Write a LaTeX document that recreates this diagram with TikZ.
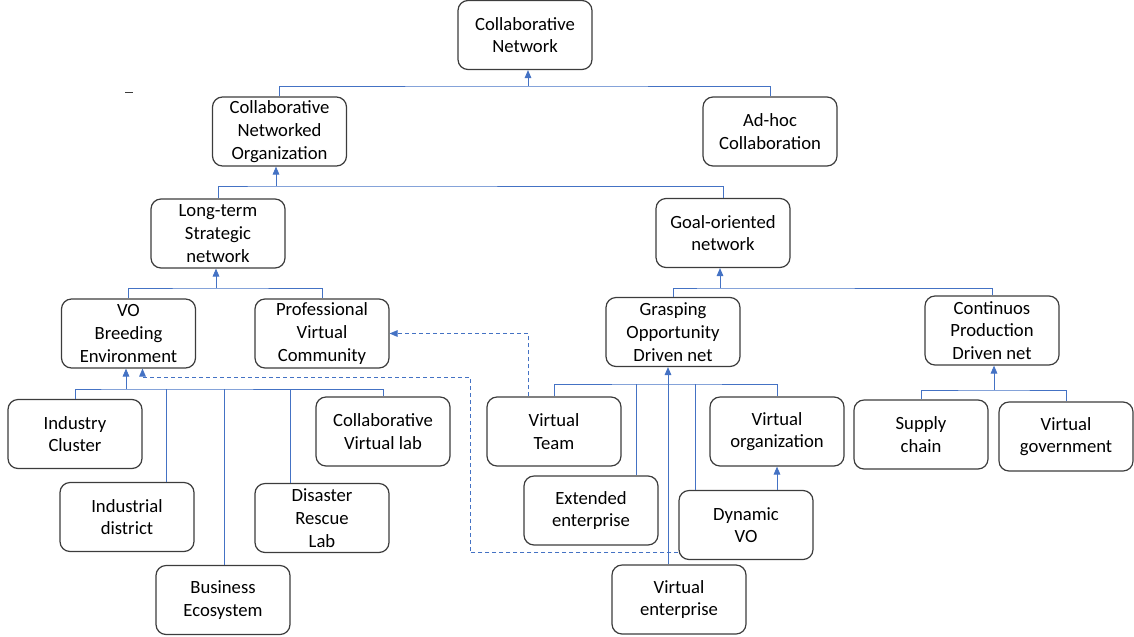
\documentclass[tikz,border=0pt]{standalone}
\usepackage{fontspec}
\setmainfont{Carlito}
\usetikzlibrary{arrows.meta}
\definecolor{linkblue}{RGB}{68,114,196}
\definecolor{boxgray}{RGB}{60,60,60}

\begin{document}
\begin{tikzpicture}[x=0.75pt, y=-0.75pt,
    box/.style={draw=boxgray, line width=0.9pt, rounded corners=7.5pt, minimum width=100.5pt, minimum height=51.75pt, align=center, inner sep=2pt, font=\fontsize{14pt}{17pt}\selectfont},
    link/.style={linkblue, line width=0.65pt},
    uparrow/.style={link, -{Triangle[width=5pt,length=6pt]}},
    dasharrow/.style={uparrow, dash pattern=on 3pt off 2.25pt}]
        \useasboundingbox (0,0) rectangle (1134,636);

        % Top levels
        \node[box] (cn) at (525,35) {Collaborative\\Network};
        \node[box] (cno) at (279.5,131.5) {Collaborative\\Networked\\Organization};
        \node[box] (adhoc) at (770,131.5) {Ad-hoc\\Collaboration};
        \node[box] (lts) at (218,233.5) {Long-term\\Strategic\\network};
        \node[box] (gon) at (723,233) {Goal-oriented\\network};

        % Third level
        \node[box] (vbe) at (128.5,333.5) {VO\\Breeding\\Environment};
        \node[box] (pvc) at (322,333.5) {Professional\\Virtual\\Community};
        \node[box] (god) at (673,332) {Grasping\\Opportunity\\Driven net};
        \node[box] (cpd) at (992,330.5) {Continuos\\Production\\Driven net};

        % Leaves under VO Breeding Environment
        \node[box] (ic) at (75,434) {Industry\\Cluster};
        \node[box] (cvl) at (383,431.5) {Collaborative\\Virtual lab};
        \node[box] (id) at (127,517) {Industrial\\district};
        \node[box] (drl) at (322,518) {Disaster\\Rescue\\Lab};
        \node[box] (be) at (223,600) {Business\\Ecosystem};

        % Leaves under Grasping Opportunity Driven net
        \node[box] (vt) at (554,431.5) {Virtual\\Team};
        \node[box] (ee) at (591,510.5) {Extended\\enterprise};
        \node[box] (vorg) at (777,431.5) {Virtual\\organization};
        \node[box] (dvo) at (746,525) {Dynamic\\VO};
        \node[box] (ve) at (679,599.5) {Virtual\\enterprise};

        % Leaves under Continuos Production Driven net
        \node[box] (sc) at (921,434.5) {Supply\\chain};
        \node[box] (vg) at (1066,436.5) {Virtual\\government};

        % Bus points
        \coordinate (busA) at (528,86);
        \coordinate (busB) at (276,186);
        \coordinate (busC) at (216,288);
        \coordinate (busD) at (720,288);
        \coordinate (busE) at (126,389);
        \coordinate (busF) at (668,384);
        \coordinate (busG) at (994,390);

        % Draw the tree links
        \draw[link] (cno.north) |- (busA) -| (adhoc.north);
        \draw[uparrow] (busA) -- (busA |- cn.south);
        \draw[link] (lts.north) |- (busB) -| (gon.north);
        \draw[uparrow] (busB) -- (busB |- cno.south);
        \draw[link] (vbe.north) |- (busC) -| (pvc.north);
        \draw[uparrow] (busC) -- (busC |- lts.south);
        \draw[link] (god.north) |- (busD) -| (cpd.north);
        \draw[uparrow] (busD) -- (busD |- gon.south);

        \draw[link] (ic.north) |- (busE) -| (cvl.north);
        \draw[uparrow] (busE) -- (busE |- vbe.south);
        \foreach \n/\dx in {id/39, be/1, drl/-32} {
            \path (\n.north) ++(\dx,0) coordinate (\n-top);
            \draw[link] (\n-top) -- (\n-top |- busE);
        }

        \draw[link] (vt.north) |- (busF) -| (vorg.north);
        \foreach \n/\dx in {ee/45, dvo/-51} {
            \path (\n.north) ++(\dx,0) coordinate (\n-top);
            \draw[link] (\n-top) -- (\n-top |- busF);
        }
        \draw[uparrow] (ve.north -| busF) -- (busF |- god.south);
        \draw[uparrow] (dvo.north -| vorg.south) -- (vorg.south);

        \draw[link] (sc.north) |- (busG) -| (vg.north);
        \draw[uparrow] (busG) -- (busG |- cpd.south);

        % Dashed cross links
        \coordinate (dashTurn) at (470,377);
        \path (dvo.south west) ++(0,-8) coordinate (dvo-left);
        \path (vbe.south) ++(14,0) coordinate (vbe-in);
        \draw[dasharrow] (dvo-left) -| (dashTurn) -| (vbe-in);
        \path (vt.north) ++(-26,0) coordinate (vt-top);
        \draw[dasharrow] (vt-top) |- (pvc.east);

        % Stray mark
        \draw[boxgray, line width=0.6pt] (125,92) -- (133,92);
\end{tikzpicture}
\end{document}
